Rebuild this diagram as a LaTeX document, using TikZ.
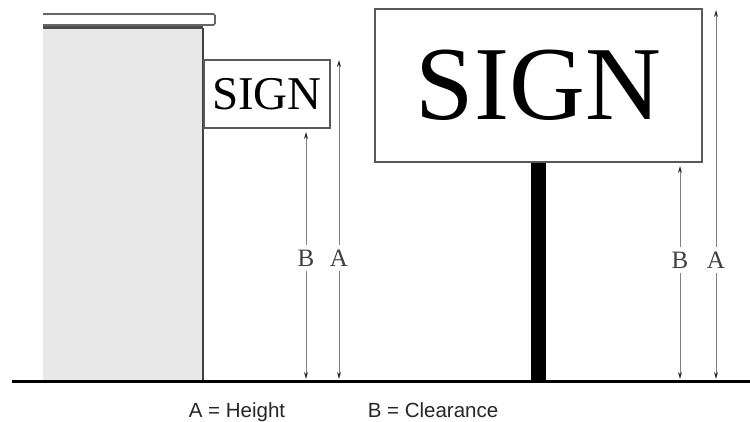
\documentclass[tikz,border=0pt]{standalone}
\usepackage{fontspec}
\setmainfont{Liberation Serif}
\newfontfamily\labelfont{Liberation Sans}
\usetikzlibrary{arrows.meta}
\tikzset{
signbox/.style={draw=black!65,line width=1.3pt,fill=white,inner sep=0pt},
dimline/.style={draw=black!50,line width=1pt,-{Stealth[length=7pt,width=4pt,color=black!85]}},
dimlabel/.style={font=\fontsize{25}{25}\selectfont,text=black!75,inner sep=5pt},
legend/.style={font=\labelfont\fontsize{20.5}{20.5}\selectfont,text=black!85,anchor=base}
}
\begin{document}
\begin{tikzpicture}[x=1pt,y=-1pt]
\useasboundingbox (0,0) rectangle (750,422);
%% building
\fill[black!9](43,28)rectangle(203,381);
\draw[black!75,line width=2pt](203,28)--(203,381);
\draw[black!70,line width=3pt](43,28)--(203,28);
\draw[black!60,line width=1.6pt,rounded corners=1.5pt](43,14)--(215,14)--(215,25)--(43,25);
%% ground
\draw[line width=3pt](12,381)--(750,381);
%% small sign
\node[signbox,minimum width=126pt,minimum height=68pt,font=\fontsize{47}{47}\selectfont](smallsign)at(267,94){SIGN};
\coordinate(sBtop)at(306,132);
\coordinate(sBbot)at(306,379);
\coordinate(sAtop)at(339,60);
\coordinate(sAbot)at(339,379);
\node[dimlabel](sB)at(306,258){B};
\node[dimlabel](sA)at(339,258){A};
\draw[dimline](sB)--(sBtop);
\draw[dimline](sB)--(sBbot);
\draw[dimline](sA)--(sAtop);
\draw[dimline](sA)--(sAbot);
%% big sign
\fill(531,162)rectangle(546,381);
\node[signbox,minimum width=327pt,minimum height=153pt,font=\fontsize{105}{105}\selectfont](bigsign)at(538.5,85.5){SIGN};
\coordinate(bBtop)at(680,166);
\coordinate(bBbot)at(680,379);
\coordinate(bAtop)at(716,10);
\coordinate(bAbot)at(716,379);
\node[dimlabel](bB)at(680,260){B};
\node[dimlabel](bA)at(716,260){A};
\draw[dimline](bB)--(bBtop);
\draw[dimline](bB)--(bBbot);
\draw[dimline](bA)--(bAtop);
\draw[dimline](bA)--(bAbot);
%% legend
\node[legend](legA)at(237,417){A = Height};
\node[legend](legB)at(433,417){B = Clearance};
\end{tikzpicture}
\end{document}
